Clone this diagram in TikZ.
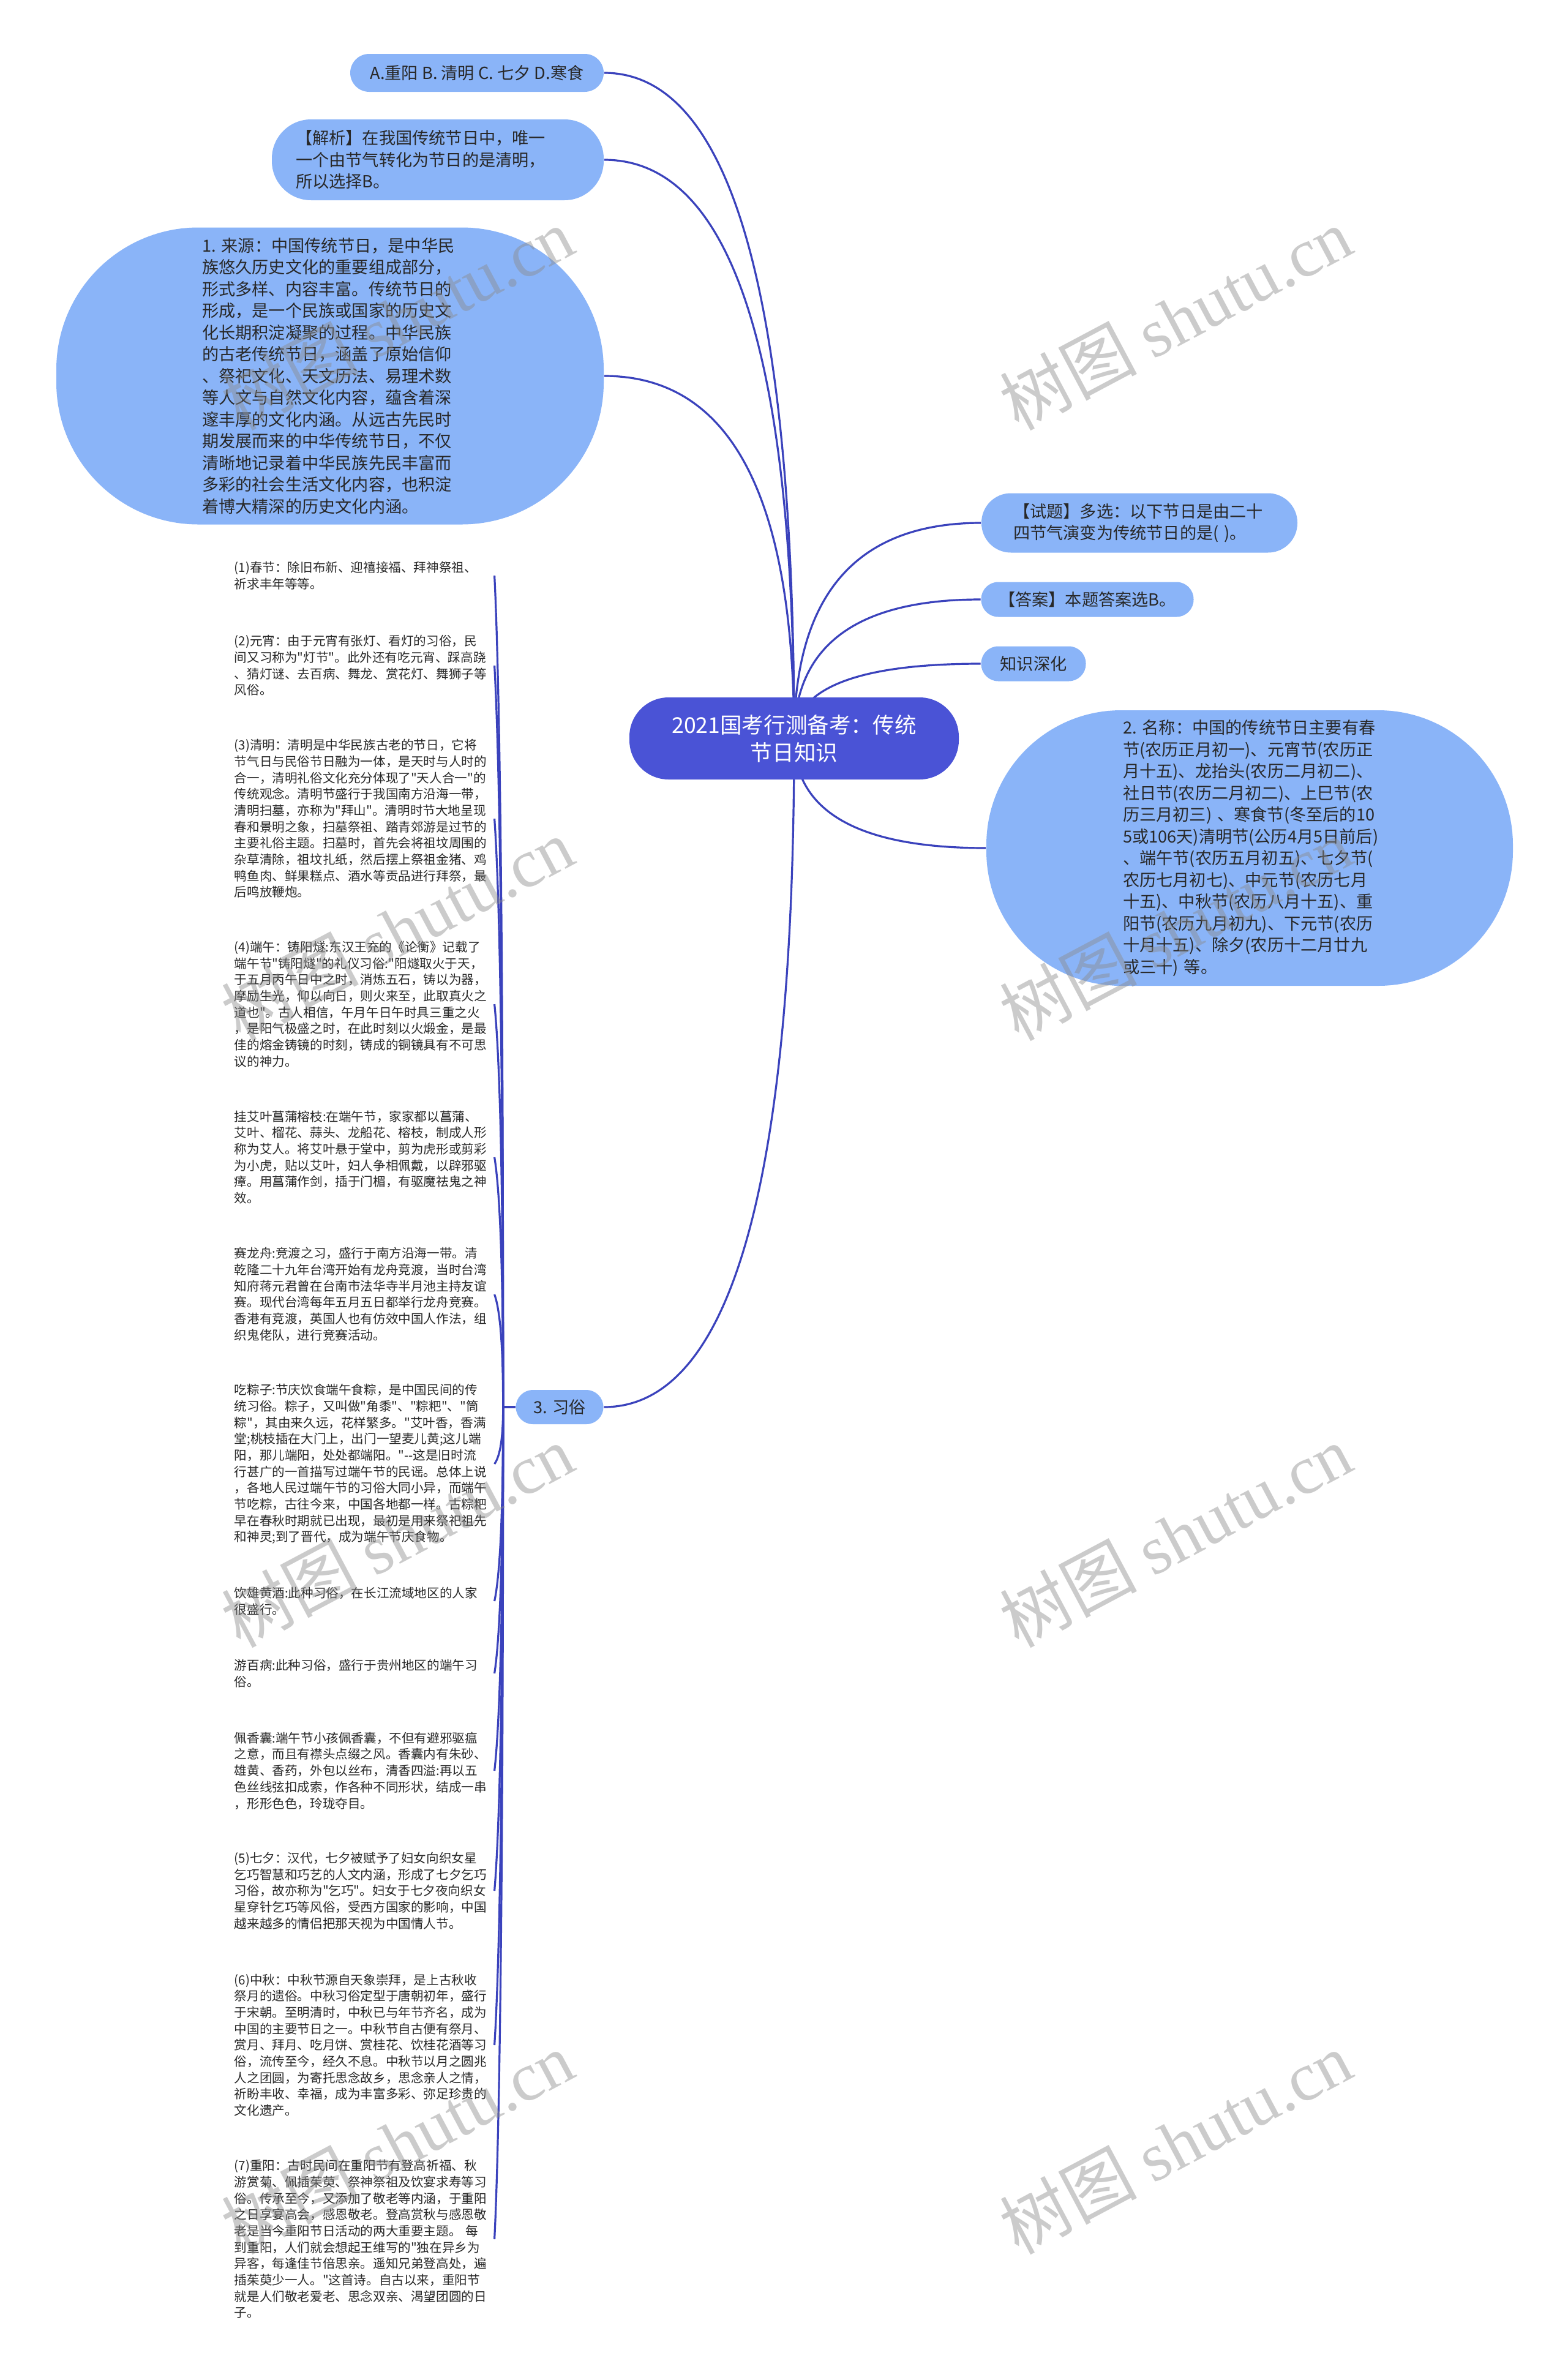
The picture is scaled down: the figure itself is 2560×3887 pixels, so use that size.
\documentclass[tikz,border=0pt]{standalone}
\usepackage{fontspec}
\setmainfont{Noto Sans CJK SC}
\newfontfamily\cjk{Noto Sans CJK SC}
\newfontfamily\wmlatin{Liberation Serif}
\usetikzlibrary{calc}
\definecolor{bubc}{RGB}{138,180,248}
\definecolor{rootc}{RGB}{74,83,214}
\definecolor{linec}{RGB}{58,66,188}
\definecolor{txtc}{RGB}{40,40,40}
\definecolor{wmc}{RGB}{140,140,140}
\pgfdeclarelayer{bg}\pgfdeclarelayer{fg}
\pgfsetlayers{bg,main,fg}
\newcommand\rcon[1]{\draw[conn] let \p1=(root.center), \p2=(#1) in (\p1) .. controls (\x1,{(\y1)+0.667*((\y2)-(\y1))}) and ({(\x2)+0.667*((\x1)-(\x2))},\y2) .. (\p2);}
\newcommand\lcon[1]{\draw[conn] let \p1=(xs.west), \p2=(#1.east) in (\p1) -- (\x1-5pt,\y1) .. controls (\x1-5pt,{0.5*(\y1)+0.5*(\y2)}) and (\x2+2.5pt,{0.15*(\y1)+0.85*(\y2)}) .. (\p2);}
\begin{document}
\begin{tikzpicture}[x=0.25pt,y=-0.25pt,
 conn/.style={draw=linec,line width=0.8pt},
 bub/.style={fill=bubc,text=txtc,inner sep=0pt,font=\cjk\fontsize{6.8pt}{8.875pt}\selectfont},
 small/.style={text=txtc,anchor=west,align=left,text width=103pt,inner xsep=3pt,inner ysep=1pt,font=\cjk\fontsize{5.15pt}{6.67pt}\selectfont},
 wm/.style={text=wmc,text opacity=0.45,rotate=28,font=\cjk\fontsize{28pt}{30pt}\selectfont}]
\useasboundingbox (0,0) rectangle (2560,3887);

\node[bub,rounded corners=7.75pt,minimum width=103.5pt,minimum height=15.5pt,align=center] (opt) at (779,119) {A.重阳 B. 清明 C. 七夕 D.寒食};

\node[bub,rounded corners=16pt,minimum width=135.5pt,minimum height=33pt,text width=116pt,align=left] (jx) at (715,261) {【解析】在我国传统节日中，唯一\\一个由节气转化为节日的是清明，\\所以选择B。};

\node[bub,rounded corners=58pt,minimum width=223.5pt,minimum height=121.25pt,text width=104.5pt,align=left] (ly) at (539,614) {1.~来源：中国传统节日，是中华民\\族悠久历史文化的重要组成部分，\\形式多样、内容丰富。传统节日的\\形成，是一个民族或国家的历史文\\化长期积淀凝聚的过程。中华民族\\的古老传统节日，涵盖了原始信仰\\、祭祀文化、天文历法、易理术数\\等人文与自然文化内容，蕴含着深\\邃丰厚的文化内涵。从远古先民时\\期发展而来的中华传统节日，不仅\\清晰地记录着中华民族先民丰富而\\多彩的社会生活文化内容，也积淀\\着博大精深的历史文化内涵。};

\node[fill=rootc,text=white,rounded corners=16pt,minimum width=134.5pt,minimum height=33.5pt,align=center,inner sep=0pt,font=\cjk\fontsize{8.9pt}{11.25pt}\selectfont] (root) at (1297,1206) {2021国考行测备考：传统\\节日知识};

\node[bub,rounded corners=12pt,minimum width=129pt,minimum height=24.25pt,text width=103pt,align=left] (st) at (1861,854) {【试题】多选：以下节日是由二十\\四节气演变为传统节日的是(~)。};

\node[bub,rounded corners=7pt,minimum width=86.75pt,minimum height=14.25pt] (da) at (1776,979) {【答案】本题答案选B。};

\node[bub,rounded corners=7pt,minimum width=42.75pt,minimum height=14.25pt] (zs) at (1688,1084) {知识深化};

\node[bub,rounded corners=55pt,minimum width=215pt,minimum height=112.5pt,text width=103.5pt,align=left] (mc) at (2041,1385) {2.~名称：中国的传统节日主要有春\\节(农历正月初一)、元宵节(农历正\\月十五)、龙抬头(农历二月初二)、\\社日节(农历二月初二)、上巳节(农\\历三月初三)~、寒食节(冬至后的10\\5或106天)清明节(公历4月5日前后)\\、端午节(农历五月初五)、七夕节(\\农历七月初七)、中元节(农历七月\\十五)、中秋节(农历八月十五)、重\\阳节(农历九月初九)、下元节(农历\\十月十五)、除夕(农历十二月廿九\\或三十)~等。};

\node[bub,rounded corners=7pt,minimum width=35.75pt,minimum height=14pt] (xs) at (914,2298) {3. 习俗};

\node[small] (c1) at (370,940) {(1)春节：除旧布新、迎禧接福、拜神祭祖、\\祈求丰年等等。};
\node[small] (c2) at (370,1087) {(2)元宵：由于元宵有张灯、看灯的习俗，民\\间又习称为"灯节"。此外还有吃元宵、踩高跷\\、猜灯谜、去百病、舞龙、赏花灯、舞狮子等\\风俗。};
\node[small] (c3) at (370,1337) {(3)清明：清明是中华民族古老的节日，它将\\节气日与民俗节日融为一体，是天时与人时的\\合一，清明礼俗文化充分体现了"天人合一"的\\传统观念。清明节盛行于我国南方沿海一带，\\清明扫墓，亦称为"拜山"。清明时节大地呈现\\春和景明之象，扫墓祭祖、踏青郊游是过节的\\主要礼俗主题。扫墓时，首先会将祖坟周围的\\杂草清除，祖坟扎纸，然后摆上祭祖金猪、鸡\\鸭鱼肉、鲜果糕点、酒水等贡品进行拜祭，最\\后鸣放鞭炮。};
\node[small] (c4) at (370,1640) {(4)端午：铸阳燧:东汉王充的《论衡》记载了\\端午节"铸阳燧"的礼仪习俗:"阳燧取火于天，\\于五月丙午日中之时，消炼五石，铸以为器，\\摩励生光，仰以向日，则火来至，此取真火之\\道也"。古人相信，午月午日午时具三重之火\\，是阳气极盛之时，在此时刻以火煅金，是最\\佳的熔金铸镜的时刻，铸成的铜镜具有不可思\\议的神力。};
\node[small] (c5) at (370,1890) {挂艾叶菖蒲榕枝:在端午节，家家都以菖蒲、\\艾叶、榴花、蒜头、龙船花、榕枝，制成人形\\称为艾人。将艾叶悬于堂中，剪为虎形或剪彩\\为小虎，贴以艾叶，妇人争相佩戴，以辟邪驱\\瘴。用菖蒲作剑，插于门楣，有驱魔祛鬼之神\\效。};
\node[small] (c6) at (370,2114) {赛龙舟:竞渡之习，盛行于南方沿海一带。清\\乾隆二十九年台湾开始有龙舟竞渡，当时台湾\\知府蒋元君曾在台南市法华寺半月池主持友谊\\赛。现代台湾每年五月五日都举行龙舟竞赛。\\香港有竞渡，英国人也有仿效中国人作法，组\\织鬼佬队，进行竞赛活动。};
\node[small] (c7) at (370,2391) {吃粽子:节庆饮食端午食粽，是中国民间的传\\统习俗。粽子，又叫做"角黍"、"粽粑"、"筒\\粽"，其由来久远，花样繁多。"艾叶香，香满\\堂;桃枝插在大门上，出门一望麦儿黄;这儿端\\阳，那儿端阳，处处都端阳。"--这是旧时流\\行甚广的一首描写过端午节的民谣。总体上说\\，各地人民过端午节的习俗大同小异，而端午\\节吃粽，古往今来，中国各地都一样。古粽粑\\早在春秋时期就已出现，最初是用来祭祀祖先\\和神灵;到了晋代，成为端午节庆食物。};
\node[small] (c8) at (370,2615) {饮雄黄酒:此种习俗，在长江流域地区的人家\\很盛行。};
\node[small] (c9) at (370,2733) {游百病:此种习俗，盛行于贵州地区的端午习\\俗。};
\node[small] (c10) at (370,2892) {佩香囊:端午节小孩佩香囊，不但有避邪驱瘟\\之意，而且有襟头点缀之风。香囊内有朱砂、\\雄黄、香药，外包以丝布，清香四溢:再以五\\色丝线弦扣成索，作各种不同形状，结成一串\\，形形色色，玲珑夺目。};
\node[small] (c11) at (370,3088) {(5)七夕：汉代，七夕被赋予了妇女向织女星\\乞巧智慧和巧艺的人文内涵，形成了七夕乞巧\\习俗，故亦称为"乞巧"。妇女于七夕夜向织女\\星穿针乞巧等风俗，受西方国家的影响，中国\\越来越多的情侣把那天视为中国情人节。};
\node[small] (c12) at (370,3340) {(6)中秋：中秋节源自天象崇拜，是上古秋收\\祭月的遗俗。中秋习俗定型于唐朝初年，盛行\\于宋朝。至明清时，中秋已与年节齐名，成为\\中国的主要节日之一。中秋节自古便有祭月、\\赏月、拜月、吃月饼、赏桂花、饮桂花酒等习\\俗，流传至今，经久不息。中秋节以月之圆兆\\人之团圆，为寄托思念故乡，思念亲人之情，\\祈盼丰收、幸福，成为丰富多彩、弥足珍贵的\\文化遗产。};
\node[small] (c13) at (370,3657) {(7)重阳：古时民间在重阳节有登高祈福、秋\\游赏菊、佩插茱萸、祭神祭祖及饮宴求寿等习\\俗。传承至今，又添加了敬老等内涵，于重阳\\之日享宴高会，感恩敬老。登高赏秋与感恩敬\\老是当今重阳节日活动的两大重要主题。~每\\到重阳，人们就会想起王维写的"独在异乡为\\异客，每逢佳节倍思亲。遥知兄弟登高处，遍\\插茱萸少一人。"这首诗。自古以来，重阳节\\就是人们敬老爱老、思念双亲、渴望团圆的日\\子。};

\begin{pgfonlayer}{bg}
\fill[white] (0,0) rectangle (2560,3887);
\rcon{opt.east}
\rcon{jx.east}
\rcon{ly.east}
\rcon{st.west}
\rcon{da.west}
\rcon{zs.west}
\rcon{mc.west}
\rcon{xs.east}
\lcon{c1}\lcon{c2}\lcon{c3}\lcon{c4}\lcon{c5}\lcon{c6}\lcon{c7}
\lcon{c8}\lcon{c9}\lcon{c10}\lcon{c11}\lcon{c12}\lcon{c13}
\end{pgfonlayer}

\begin{pgfonlayer}{fg}
\node[wm] (w1) at (649,520) {树图 {\wmlatin shutu.cn}};
\node[wm] (w2) at (649,1517) {树图 {\wmlatin shutu.cn}};
\node[wm] (w3) at (649,2508) {树图 {\wmlatin shutu.cn}};
\node[wm] (w4) at (649,3499) {树图 {\wmlatin shutu.cn}};
\node[wm] (w5) at (1920,520) {树图 {\wmlatin shutu.cn}};
\node[wm] (w6) at (1920,1517) {树图 {\wmlatin shutu.cn}};
\node[wm] (w7) at (1920,2508) {树图 {\wmlatin shutu.cn}};
\node[wm] (w8) at (1920,3499) {树图 {\wmlatin shutu.cn}};
\end{pgfonlayer}
\end{tikzpicture}
\end{document}
